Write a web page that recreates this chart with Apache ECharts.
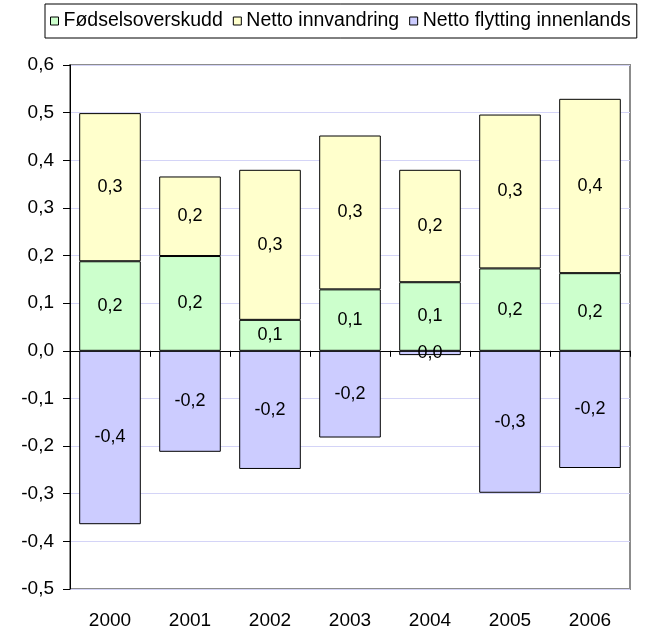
<!DOCTYPE html>
<html>
<head>
<meta charset="utf-8">
<script src="https://cdn.jsdelivr.net/npm/echarts@6/dist/echarts.min.js"></script>
<style>
  html, body { margin: 0; padding: 0; background: #fff; }
  #chart { width: 648px; height: 632px; }
</style>
</head>
<body>
<div id="chart"></div>
<script>
const years = ['2000', '2001', '2002', '2003', '2004', '2005', '2006']
const birthSurplus = [0.188, 0.199, 0.065, 0.129, 0.144, 0.173, 0.163]
const netImmigration = [0.311, 0.167, 0.315, 0.323, 0.236, 0.323, 0.366]
const netDomestic = [-0.364, -0.212, -0.248, -0.182, -0.009, -0.298, -0.246]

const font = "'Liberation Sans', Arial, sans-serif"

// 0.2 -> "0,2", keep "0,0" without minus
const fmt = v => {
  let s = v.toFixed(1).replace('.', ',')
  if (s === '-0,0') s = '0,0'
  return s
}

const chart = echarts.init(document.getElementById('chart'), null, { renderer: 'canvas' })

const labelOption = {
  show: true,
  position: 'inside',
  color: '#000',
  fontSize: 18,
  fontFamily: font,
  formatter: p => fmt(p.value)
}

const barSeries = (name, data, color) => ({
  name,
  type: 'bar',
  stack: 'total',
  data,
  barCategoryGap: '23%',
  itemStyle: { color, borderColor: '#000', borderWidth: 1 },
  label: labelOption
})

const option = {
  animation: false,
  backgroundColor: '#fff',
  legend: {
    left: 45,
    top: 4,
    padding: [7, 6, 7, 5],
    itemWidth: 8,
    itemHeight: 8,
    itemGap: 10,
    icon: 'rect',
    borderColor: '#000',
    borderWidth: 1,
    itemStyle: { borderColor: '#000', borderWidth: 1 },
    textStyle: { fontSize: 19.5, fontFamily: font, color: '#000' },
    data: ['Fødselsoverskudd', 'Netto innvandring', 'Netto flytting innenlands']
  },
  grid: {
    left: 70,
    right: 18,
    top: 65,
    bottom: 43,
    show: true,
    borderColor: '#8c8c8c',
    borderWidth: 2
  },
  xAxis: [{
    type: 'category',
    data: years,
    axisLine: { onZero: true, lineStyle: { color: '#000', width: 1 } },
    axisTick: { show: true, length: 6, lineStyle: { color: '#000' } },
    axisLabel: { show: false }
  }, {
    type: 'category',
    data: years,
    position: 'bottom',
    axisLine: { show: false, onZero: false },
    axisTick: { show: false },
    axisLabel: { fontSize: 19, fontFamily: font, color: '#000', margin: 22 }
  }],
  yAxis: {
    type: 'value',
    min: -0.5,
    max: 0.6,
    interval: 0.1,
    axisLine: { show: true, lineStyle: { color: '#000', width: 1 } },
    axisTick: { show: true, length: 7, lineStyle: { color: '#000' } },
    axisLabel: {
      fontSize: 19,
      fontFamily: font,
      color: '#000',
      margin: 16,
      formatter: v => fmt(v)
    },
    splitLine: { show: true, lineStyle: { color: '#d4d4f7', width: 1 } }
  },
  series: [
    barSeries('Fødselsoverskudd', birthSurplus, '#ccffcc'),
    barSeries('Netto innvandring', netImmigration, '#ffffcc'),
    barSeries('Netto flytting innenlands', netDomestic, '#ccccff')
  ]
}

chart.setOption(option)
</script>
</body>
</html>
